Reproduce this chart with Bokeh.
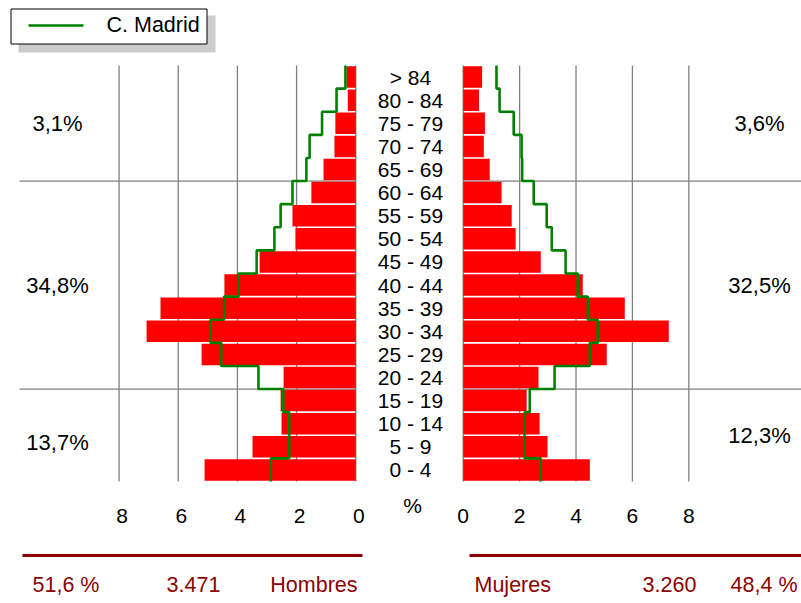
from bokeh.plotting import figure
from bokeh.models import Range1d
from bokeh.core.properties import value
from bokeh.embed import file_html
from bokeh.resources import INLINE

# ---------------- data ----------------
age_groups = ["0 - 4", "5 - 9", "10 - 14", "15 - 19", "20 - 24", "25 - 29", "30 - 34",
              "35 - 39", "40 - 44", "45 - 49", "50 - 54", "55 - 59", "60 - 64",
              "65 - 69", "70 - 74", "75 - 79", "80 - 84", "> 84"]
hombres = [5.11, 3.49, 2.51, 2.54, 2.44, 5.21, 7.07, 6.60, 4.44, 3.25, 2.04, 2.14, 1.50,
           1.09, 0.72, 0.69, 0.27, 0.31]
mujeres = [4.49, 2.99, 2.71, 2.25, 2.67, 5.09, 7.29, 5.73, 4.24, 2.75, 1.86, 1.72, 1.36,
           0.94, 0.73, 0.77, 0.56, 0.67]
madrid_h = [2.87, 2.25, 2.25, 2.45, 3.29, 4.55, 4.91, 4.45, 3.96, 3.35, 2.75, 2.54, 2.14,
            1.67, 1.56, 1.14, 0.65, 0.35]
madrid_m = [2.75, 2.18, 2.18, 2.36, 3.24, 4.49, 4.77, 4.42, 4.06, 3.63, 3.14, 2.96, 2.50,
            2.09, 2.07, 1.79, 1.29, 1.18]
ticks = [0, 2, 4, 6, 8]
group_rows = [(13, 17), (4, 12), (0, 3)]
group_pct_h = ["3,1%", "34,8%", "13,7%"]
group_pct_m = ["3,6%", "32,5%", "12,3%"]
total_h_pct, total_h = "51,6 %", "3.471"
total_m_pct, total_m = "48,4 %", "3.260"
legend_label = "C. Madrid"

# ---------------- styling ----------------
FONT = value("Liberation Sans")
RED = "#FF0000"
GREEN = "#008000"
GRID = "#808080"
DARKRED = "#8B0000"
W, H = 801, 603

rows = list(range(len(age_groups)))
n = len(rows)

p = figure(width=W, height=H,
           x_range=Range1d(-16.408, 11.996), y_range=Range1d(-5.779, 20.313),
           x_axis_type=None, y_axis_type=None, min_border=0,
           toolbar_location=None, output_backend="svg")
p.outline_line_color = None
p.background_fill_color = "white"
p.border_fill_color = "white"
p.extra_x_ranges = {"left": Range1d(12.007, -15.063), "px": Range1d(0, W)}
p.extra_y_ranges = {"px": Range1d(0, H)}

# grid lines
p.segment(x0=ticks, y0=-0.5, x1=ticks, y1=n - 0.5, x_range_name="left",
          line_color=GRID, line_width=1.3)
p.segment(x0=ticks, y0=-0.5, x1=ticks, y1=n - 0.5,
          line_color=GRID, line_width=1.3)
bounds = [g[0] - 0.5 for g in group_rows if g[0] > 0]
p.segment(x0=[11.37] * len(bounds), y0=bounds, x1=[0] * len(bounds), y1=bounds,
          x_range_name="left", line_color=GRID, line_width=1.3)
p.segment(x0=[0] * len(bounds), y0=bounds, x1=[12.0] * len(bounds), y1=bounds,
          line_color=GRID, line_width=1.3)

# bars
p.hbar(y=rows, left=0, right=hombres, height=0.93, x_range_name="left",
       fill_color=RED, line_color=None)
p.hbar(y=rows, left=0, right=mujeres, height=0.93,
       fill_color=RED, line_color=None)


def step_path(vals):
    xs, ys = [], []
    for i, v in enumerate(vals):
        xs += [v, v]
        ys += [i - 0.5, i + 0.5]
    return xs, ys


hx, hy = step_path(madrid_h)
mx, my = step_path(madrid_m)
p.line(hx, hy, x_range_name="left", line_color=GREEN, line_width=2.6)
p.line(mx, my, line_color=GREEN, line_width=2.6)

txt = dict(text_font=FONT, text_font_size="21px", text_color="black",
           text_baseline="middle")

# age labels
p.text(x=[410] * n, y=rows, text=age_groups, x_range_name="px", text_align="center", **txt)

# tick labels
p.text(x=ticks, y=[88] * len(ticks), text=[str(t) for t in ticks], x_range_name="left",
       y_range_name="px", text_align="center", x_offset=3, **txt)
p.text(x=ticks, y=[88] * len(ticks), text=[str(t) for t in ticks],
       y_range_name="px", text_align="center", **txt)
p.text(x=[412], y=[98], text=["%"], x_range_name="px", y_range_name="px",
       text_align="center", **txt)

# group percentages
gtxt = dict(txt, text_font_size="22px")
gmid = [(a + b) / 2 for a, b in group_rows]
p.text(x=[57] * 3, y=gmid, text=group_pct_h, x_range_name="px", text_align="center",
       y_offset=[0, 0, 7], **gtxt)
p.text(x=[759] * 3, y=gmid, text=group_pct_m, x_range_name="px", text_align="center", **gtxt)

# bottom totals
p.segment(x0=[22, 469], y0=[48, 48], x1=[362, 801], y1=[48, 48],
          x_range_name="px", y_range_name="px", line_color=DARKRED, line_width=3)
bt = dict(text_font=FONT, text_font_size="21.5px", text_color=DARKRED,
          text_baseline="middle", x_range_name="px", y_range_name="px")
p.text(x=[32], y=[19], text=[total_h_pct], text_align="left", **bt)
p.text(x=[193], y=[19], text=[total_h], text_align="center", **bt)
p.text(x=[357], y=[19], text=["Hombres"], text_align="right", **bt)
p.text(x=[474], y=[19], text=["Mujeres"], text_align="left", **bt)
p.text(x=[669], y=[19], text=[total_m], text_align="center", **bt)
p.text(x=[797], y=[19], text=[total_m_pct], text_align="right", **bt)

# legend (box with shadow)
p.quad(left=18, right=215, bottom=551, top=588, x_range_name="px", y_range_name="px",
       fill_color="#CCCCCC", line_color=None)
p.quad(left=10.5, right=206.5, bottom=559.5, top=594.5, x_range_name="px", y_range_name="px",
       fill_color="white", line_color="black", line_width=1)
p.line(x=[28, 83], y=[578, 578], x_range_name="px", y_range_name="px",
       line_color=GREEN, line_width=2.6)
p.text(x=[106], y=[579], text=[legend_label], x_range_name="px", y_range_name="px",
       text_align="left", text_font=FONT, text_font_size="21.5px", text_color="black",
       text_baseline="middle")

open("out.html", "w").write(file_html(p, INLINE))
